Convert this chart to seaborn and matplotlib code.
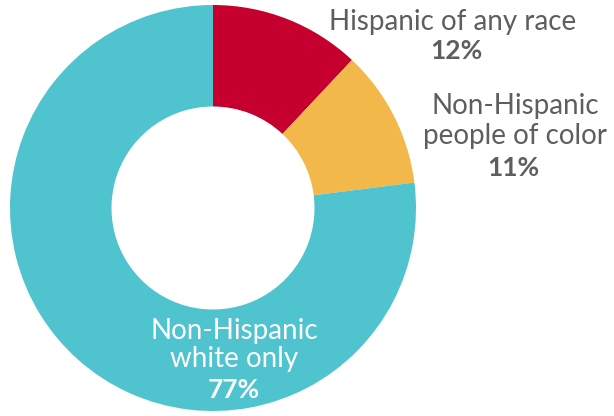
import matplotlib
matplotlib.use("Agg")
import matplotlib.pyplot as plt
import seaborn as sns

# Data
groups = ["Hispanic of any race", "Non-Hispanic\npeople of color", "Non-Hispanic\nwhite only"]
shares = [12, 11, 77]
colors = ["#C6002E", "#F2B94A", "#4FC3CE"]

sns.set_theme(style="white")
plt.rcParams["font.family"] = ["Lato", "DejaVu Sans"]

W, H = 614, 416
fig = plt.figure(figsize=(W / 100, H / 100), dpi=100)

# donut centre and radius in pixels
cx, cy, r = 213, 208, 203
ax = fig.add_axes([(cx - r) / W, 1 - (cy + r) / H, 2 * r / W, 2 * r / H])
ax.pie(shares, colors=colors, startangle=90, counterclock=False,
       wedgeprops=dict(width=0.5, linewidth=0), radius=1)
ax.set_xlim(-1, 1)
ax.set_ylim(-1, 1)
ax.set_aspect("equal")
ax.axis("off")

grey = "#5E5E5E"
fs = 20

def px(x, y):
    return x / W, 1 - y / H

# Hispanic
fig.text(*px(453, 22), groups[0], ha="center", va="center", fontsize=fs,
         color=grey, fontweight="normal")
fig.text(*px(456, 51), f"{shares[0]}%", ha="center", va="center", fontsize=fs - 1,
         color=grey, fontweight="bold")

# Non-Hispanic people of color
fig.text(*px(515, 121), groups[1], ha="center", va="center", fontsize=fs,
         color=grey, fontweight="normal", linespacing=1.15)
fig.text(*px(513, 168), f"{shares[1]}%", ha="center", va="center", fontsize=fs - 1,
         color=grey, fontweight="bold")

# Non-Hispanic white only
fig.text(*px(234, 345), groups[2], ha="center", va="center", fontsize=fs,
         color="white", fontweight="normal", linespacing=1.1)
fig.text(*px(234, 390), f"{shares[2]}%", ha="center", va="center", fontsize=fs - 1,
         color="white", fontweight="bold")

fig.savefig("out.png", dpi=100)
